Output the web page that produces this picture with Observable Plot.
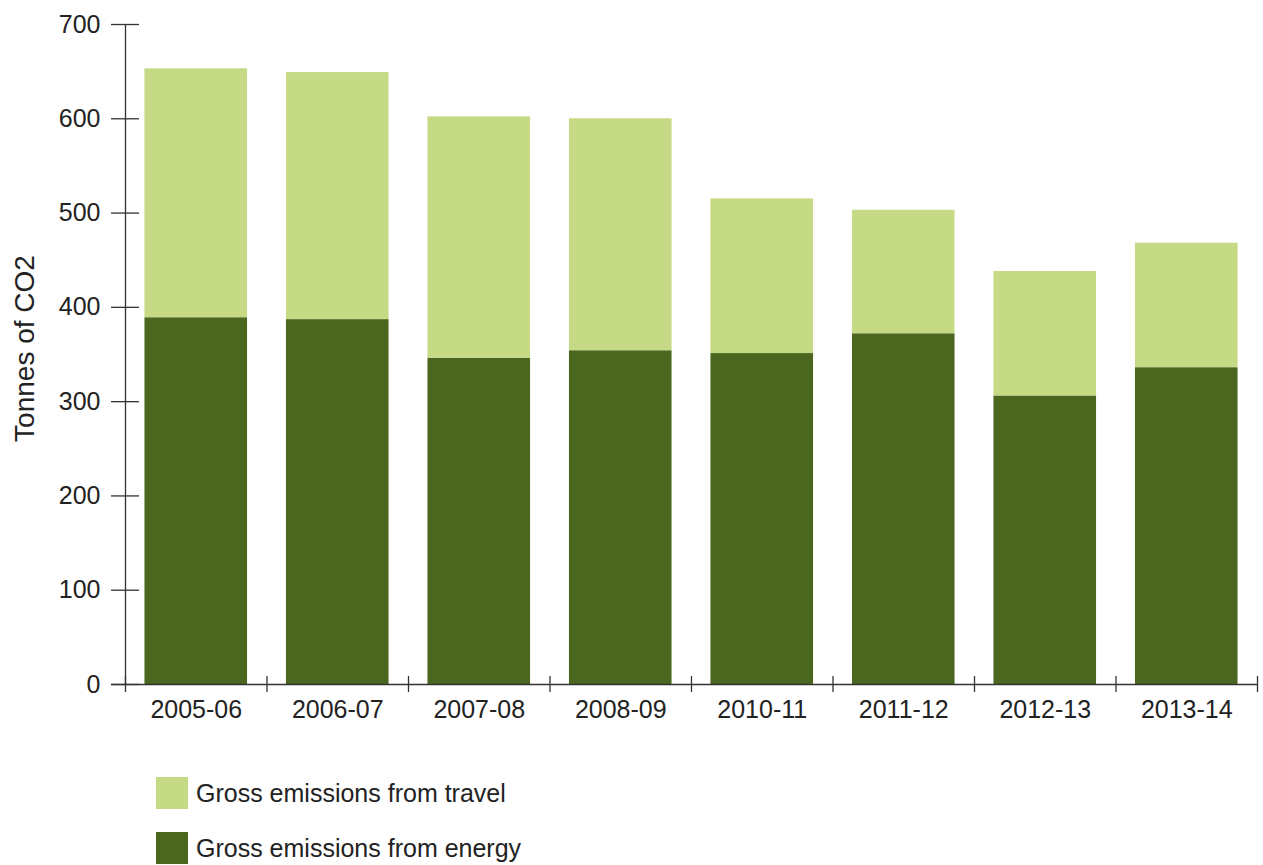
<!DOCTYPE html>
<html>
<head>
<meta charset="utf-8">
<script src="https://cdn.jsdelivr.net/npm/d3@7"></script>
<script src="https://cdn.jsdelivr.net/npm/@observablehq/plot@0.6"></script>
<style>
  html, body { margin: 0; padding: 0; background: #fff; }
  body { font-family: "Liberation Sans", Arial, Helvetica, sans-serif; color: #222; }
  #legend { margin-top: 37px; padding-left: 156px; }
  .item { display: flex; align-items: center; height: 32px; margin-bottom: 23px; font-size: 25px; }
  .sw { width: 32px; height: 32px; margin-right: 8px; flex: none; }
</style>
</head>
<body>
<div id="chart"></div>
<div id="legend"></div>
<script>
const categories = ["2005-06","2006-07","2007-08","2008-09","2010-11","2011-12","2012-13","2013-14"];
const energy = [389, 387, 346, 354, 351, 372, 306, 336];
const travel = [264, 262, 256, 246, 164, 131, 132, 132];
const seriesNames = ["Gross emissions from energy", "Gross emissions from travel"];
const seriesColors = ["#4a661f", "#c6d985"];
const yTicks = [0, 100, 200, 300, 400, 500, 600, 700];

const data = [];
categories.forEach((c, i) => {
  data.push({cat: c, series: seriesNames[0], value: energy[i]});
  data.push({cat: c, series: seriesNames[1], value: travel[i]});
});

const W = 1263, H = 740;
const mL = 125, mR = 6, mT = 24, mB = 56;
const frameW = W - mL - mR;
const frameH = H - mT - mB;
const step = frameW / categories.length;
const axisColor = "#333";

const chart = Plot.plot({
  width: W,
  height: H,
  marginLeft: mL,
  marginRight: mR,
  marginTop: mT,
  marginBottom: mB,
  style: {fontFamily: '"Liberation Sans", Arial, Helvetica, sans-serif', fontSize: "25px", color: "#222", background: "#fff", overflow: "visible"},
  x: {domain: categories, paddingInner: 0.275, paddingOuter: 0.1375, round: false, label: null},
  y: {domain: [0, 700], label: null},
  color: {domain: seriesNames, range: seriesColors},
  marks: [
    Plot.barY(data, {x: "cat", y: "value", fill: "series"}),
    // y axis line
    Plot.ruleX([categories[0]], {dx: -step / 2, stroke: axisColor, strokeWidth: 1.3}),
    // x axis line
    Plot.ruleY([0], {insetLeft: -14, stroke: axisColor, strokeWidth: 1.3}),
    // y ticks crossing the axis
    Plot.tickY(yTicks, {y: d => d, insetLeft: -14, insetRight: frameW - 14, stroke: axisColor, strokeWidth: 1.3}),
    // x ticks at band boundaries
    Plot.ruleX(categories, {dx: -step / 2, insetTop: frameH - 8, insetBottom: -8, stroke: axisColor, strokeWidth: 1.3}),
    Plot.ruleX([categories[categories.length - 1]], {dx: step / 2, insetTop: frameH - 8, insetBottom: -8, stroke: axisColor, strokeWidth: 1.3}),
    Plot.axisY(yTicks, {tickSize: 0, tickPadding: 25, fontSize: 25, label: null}),
    Plot.axisX({tickSize: 0, tickPadding: 16, fontSize: 25, label: null}),
    Plot.text(["Tonnes of CO2"], {frameAnchor: "left", textAnchor: "middle", rotate: -90, dx: -100, dy: -6, fontSize: 28, fill: "#222"})
  ]
});
document.getElementById("chart").appendChild(chart);

const legend = document.getElementById("legend");
[1, 0].forEach(i => {
  const item = document.createElement("div");
  item.className = "item";
  const sw = document.createElement("div");
  sw.className = "sw";
  sw.style.background = seriesColors[i];
  const t = document.createElement("span");
  t.textContent = seriesNames[i];
  item.appendChild(sw);
  item.appendChild(t);
  legend.appendChild(item);
});
</script>
</body>
</html>
